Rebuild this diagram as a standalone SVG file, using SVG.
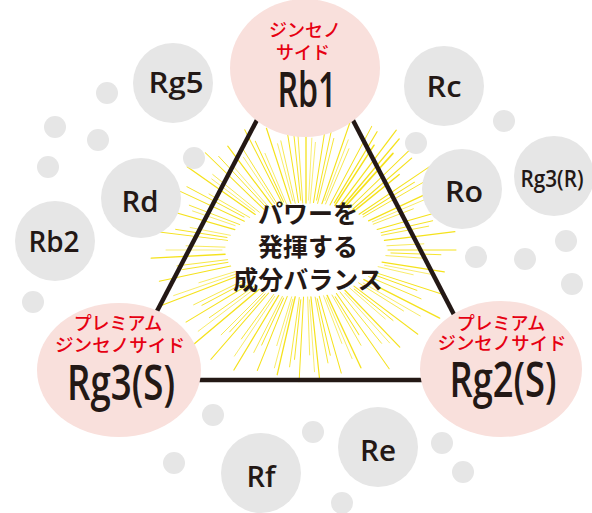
<svg xmlns="http://www.w3.org/2000/svg" width="592" height="513" viewBox="0 0 592 513">
<style>
.burst line{stroke:#f5e21c;stroke-linecap:round}
.edge{stroke:#231815;stroke-width:4.5;fill:none}
.pink{fill:#f9e0dc}
.gray{fill:#e6e6e6}
.red{font-family:"Noto Sans CJK JP","Noto Sans",sans-serif;font-size:18px;font-weight:500;fill:#e60012;text-anchor:middle}
.big{font-family:"Open Sans","Liberation Sans",sans-serif;font-weight:600;font-size:48px;fill:#231815;text-anchor:middle}
.lbl{font-family:"Open Sans","Liberation Sans",sans-serif;font-weight:600;font-size:29px;fill:#231815;text-anchor:middle}
.ctr{font-family:"Noto Sans CJK JP",sans-serif;font-weight:700;font-size:25px;fill:#231815;text-anchor:middle}
</style>
<rect width="592" height="513" fill="#ffffff"/>
<g id="burst" class="burst" transform="translate(306 250)">
<line x1="82" y1="0" x2="150" y2="0" stroke-width="1" transform="rotate(0)"/>
<line x1="80" y1="0" x2="120" y2="0" stroke-width="0.7" transform="rotate(4)"/>
<line x1="77" y1="0" x2="140" y2="0" stroke-width="1.2" transform="rotate(9)"/>
<line x1="74" y1="0" x2="110" y2="0" stroke-width="0.6" transform="rotate(13)"/>
<line x1="70" y1="0" x2="145" y2="0" stroke-width="1" transform="rotate(18)"/>
<line x1="68" y1="0" x2="125" y2="0" stroke-width="0.8" transform="rotate(23)"/>
<line x1="65" y1="0" x2="150" y2="0" stroke-width="1.4" transform="rotate(27)"/>
<line x1="62" y1="0" x2="115" y2="0" stroke-width="0.7" transform="rotate(32)"/>
<line x1="60" y1="0" x2="140" y2="0" stroke-width="1" transform="rotate(37)"/>
<line x1="58" y1="0" x2="105" y2="0" stroke-width="0.6" transform="rotate(41)"/>
<line x1="56" y1="0" x2="135" y2="0" stroke-width="1.2" transform="rotate(46)"/>
<line x1="54" y1="0" x2="120" y2="0" stroke-width="0.8" transform="rotate(51)"/>
<line x1="53" y1="0" x2="145" y2="0" stroke-width="1" transform="rotate(55)"/>
<line x1="52" y1="0" x2="110" y2="0" stroke-width="0.7" transform="rotate(60)"/>
<line x1="50" y1="0" x2="130" y2="0" stroke-width="1.3" transform="rotate(65)"/>
<line x1="49" y1="0" x2="100" y2="0" stroke-width="0.6" transform="rotate(69)"/>
<line x1="48" y1="0" x2="128" y2="0" stroke-width="1" transform="rotate(74)"/>
<line x1="48" y1="0" x2="115" y2="0" stroke-width="0.8" transform="rotate(79)"/>
<line x1="47" y1="0" x2="130" y2="0" stroke-width="1.2" transform="rotate(84)"/>
<line x1="47" y1="0" x2="105" y2="0" stroke-width="0.7" transform="rotate(88)"/>
<line x1="47" y1="0" x2="132" y2="0" stroke-width="1" transform="rotate(93)"/>
<line x1="48" y1="0" x2="118" y2="0" stroke-width="0.8" transform="rotate(98)"/>
<line x1="48" y1="0" x2="128" y2="0" stroke-width="1.3" transform="rotate(103)"/>
<line x1="49" y1="0" x2="100" y2="0" stroke-width="0.6" transform="rotate(107)"/>
<line x1="50" y1="0" x2="130" y2="0" stroke-width="1" transform="rotate(112)"/>
<line x1="52" y1="0" x2="115" y2="0" stroke-width="0.7" transform="rotate(117)"/>
<line x1="53" y1="0" x2="140" y2="0" stroke-width="1.2" transform="rotate(121)"/>
<line x1="55" y1="0" x2="110" y2="0" stroke-width="0.8" transform="rotate(126)"/>
<line x1="57" y1="0" x2="145" y2="0" stroke-width="1" transform="rotate(131)"/>
<line x1="59" y1="0" x2="120" y2="0" stroke-width="0.7" transform="rotate(135)"/>
<line x1="61" y1="0" x2="150" y2="0" stroke-width="1.3" transform="rotate(140)"/>
<line x1="63" y1="0" x2="118" y2="0" stroke-width="0.8" transform="rotate(145)"/>
<line x1="66" y1="0" x2="140" y2="0" stroke-width="1" transform="rotate(149)"/>
<line x1="69" y1="0" x2="125" y2="0" stroke-width="0.7" transform="rotate(154)"/>
<line x1="72" y1="0" x2="155" y2="0" stroke-width="1.2" transform="rotate(159)"/>
<line x1="74" y1="0" x2="112" y2="0" stroke-width="0.6" transform="rotate(163)"/>
<line x1="77" y1="0" x2="150" y2="0" stroke-width="1" transform="rotate(168)"/>
<line x1="79" y1="0" x2="130" y2="0" stroke-width="0.8" transform="rotate(173)"/>
<line x1="81" y1="0" x2="155" y2="0" stroke-width="1.3" transform="rotate(177)"/>
<line x1="81" y1="0" x2="120" y2="0" stroke-width="0.7" transform="rotate(182)"/>
<line x1="79" y1="0" x2="150" y2="0" stroke-width="1" transform="rotate(187)"/>
<line x1="77" y1="0" x2="118" y2="0" stroke-width="0.6" transform="rotate(191)"/>
<line x1="74" y1="0" x2="145" y2="0" stroke-width="1.2" transform="rotate(196)"/>
<line x1="71" y1="0" x2="125" y2="0" stroke-width="0.8" transform="rotate(201)"/>
<line x1="68" y1="0" x2="150" y2="0" stroke-width="1" transform="rotate(205)"/>
<line x1="65" y1="0" x2="112" y2="0" stroke-width="0.7" transform="rotate(210)"/>
<line x1="62" y1="0" x2="145" y2="0" stroke-width="1.3" transform="rotate(215)"/>
<line x1="60" y1="0" x2="120" y2="0" stroke-width="0.7" transform="rotate(219)"/>
<line x1="58" y1="0" x2="140" y2="0" stroke-width="1" transform="rotate(224)"/>
<line x1="55" y1="0" x2="110" y2="0" stroke-width="0.6" transform="rotate(229)"/>
<line x1="54" y1="0" x2="130" y2="0" stroke-width="1.2" transform="rotate(233)"/>
<line x1="52" y1="0" x2="118" y2="0" stroke-width="0.8" transform="rotate(238)"/>
<line x1="51" y1="0" x2="135" y2="0" stroke-width="1" transform="rotate(243)"/>
<line x1="50" y1="0" x2="105" y2="0" stroke-width="0.6" transform="rotate(247)"/>
<line x1="49" y1="0" x2="128" y2="0" stroke-width="1.2" transform="rotate(252)"/>
<line x1="48" y1="0" x2="112" y2="0" stroke-width="0.7" transform="rotate(257)"/>
<line x1="48" y1="0" x2="130" y2="0" stroke-width="1" transform="rotate(261)"/>
<line x1="47" y1="0" x2="118" y2="0" stroke-width="0.8" transform="rotate(266)"/>
<line x1="47" y1="0" x2="128" y2="0" stroke-width="1.3" transform="rotate(270)"/>
<line x1="47" y1="0" x2="108" y2="0" stroke-width="0.6" transform="rotate(275)"/>
<line x1="48" y1="0" x2="130" y2="0" stroke-width="1" transform="rotate(279)"/>
<line x1="48" y1="0" x2="115" y2="0" stroke-width="0.8" transform="rotate(284)"/>
<line x1="49" y1="0" x2="135" y2="0" stroke-width="1.2" transform="rotate(289)"/>
<line x1="50" y1="0" x2="110" y2="0" stroke-width="0.7" transform="rotate(293)"/>
<line x1="51" y1="0" x2="140" y2="0" stroke-width="1" transform="rotate(298)"/>
<line x1="53" y1="0" x2="125" y2="0" stroke-width="1.5" transform="rotate(303)"/>
<line x1="55" y1="0" x2="150" y2="0" stroke-width="1.2" transform="rotate(307)"/>
<line x1="57" y1="0" x2="130" y2="0" stroke-width="1.6" transform="rotate(312)"/>
<line x1="59" y1="0" x2="155" y2="0" stroke-width="1" transform="rotate(316)"/>
<line x1="61" y1="0" x2="120" y2="0" stroke-width="1.4" transform="rotate(321)"/>
<line x1="64" y1="0" x2="150" y2="0" stroke-width="1" transform="rotate(326)"/>
<line x1="66" y1="0" x2="135" y2="0" stroke-width="0.8" transform="rotate(330)"/>
<line x1="69" y1="0" x2="150" y2="0" stroke-width="1.2" transform="rotate(335)"/>
<line x1="72" y1="0" x2="115" y2="0" stroke-width="0.7" transform="rotate(339)"/>
<line x1="74" y1="0" x2="145" y2="0" stroke-width="1" transform="rotate(344)"/>
<line x1="77" y1="0" x2="125" y2="0" stroke-width="0.8" transform="rotate(349)"/>
<line x1="79" y1="0" x2="150" y2="0" stroke-width="1.2" transform="rotate(353)"/>
<line x1="81" y1="0" x2="118" y2="0" stroke-width="0.7" transform="rotate(357)"/>
<line x1="85" y1="0" x2="135" y2="0" stroke-width="0.9" transform="rotate(2)"/>
<line x1="80" y1="0" x2="128" y2="0" stroke-width="0.6" transform="rotate(11)"/>
<line x1="72" y1="0" x2="118" y2="0" stroke-width="0.9" transform="rotate(20)"/>
<line x1="66" y1="0" x2="132" y2="0" stroke-width="0.6" transform="rotate(30)"/>
<line x1="62" y1="0" x2="112" y2="0" stroke-width="0.9" transform="rotate(39)"/>
<line x1="58" y1="0" x2="125" y2="0" stroke-width="0.6" transform="rotate(48)"/>
<line x1="55" y1="0" x2="100" y2="0" stroke-width="0.9" transform="rotate(58)"/>
<line x1="52" y1="0" x2="118" y2="0" stroke-width="0.6" transform="rotate(67)"/>
<line x1="50" y1="0" x2="108" y2="0" stroke-width="0.9" transform="rotate(77)"/>
<line x1="50" y1="0" x2="122" y2="0" stroke-width="0.6" transform="rotate(86)"/>
<line x1="50" y1="0" x2="110" y2="0" stroke-width="0.9" transform="rotate(96)"/>
<line x1="51" y1="0" x2="122" y2="0" stroke-width="0.6" transform="rotate(105)"/>
<line x1="53" y1="0" x2="105" y2="0" stroke-width="0.9" transform="rotate(115)"/>
<line x1="56" y1="0" x2="128" y2="0" stroke-width="0.6" transform="rotate(124)"/>
<line x1="60" y1="0" x2="112" y2="0" stroke-width="0.9" transform="rotate(133)"/>
<line x1="64" y1="0" x2="135" y2="0" stroke-width="0.6" transform="rotate(143)"/>
<line x1="69" y1="0" x2="118" y2="0" stroke-width="0.9" transform="rotate(152)"/>
<line x1="74" y1="0" x2="140" y2="0" stroke-width="0.6" transform="rotate(161)"/>
<line x1="79" y1="0" x2="125" y2="0" stroke-width="0.9" transform="rotate(171)"/>
<line x1="84" y1="0" x2="140" y2="0" stroke-width="0.6" transform="rotate(180)"/>
<line x1="80" y1="0" x2="132" y2="0" stroke-width="0.9" transform="rotate(189)"/>
<line x1="75" y1="0" x2="120" y2="0" stroke-width="0.6" transform="rotate(199)"/>
<line x1="70" y1="0" x2="135" y2="0" stroke-width="0.9" transform="rotate(208)"/>
<line x1="64" y1="0" x2="118" y2="0" stroke-width="0.6" transform="rotate(217)"/>
<line x1="60" y1="0" x2="128" y2="0" stroke-width="0.9" transform="rotate(227)"/>
<line x1="56" y1="0" x2="112" y2="0" stroke-width="0.6" transform="rotate(236)"/>
<line x1="53" y1="0" x2="120" y2="0" stroke-width="0.9" transform="rotate(245)"/>
<line x1="51" y1="0" x2="110" y2="0" stroke-width="0.6" transform="rotate(255)"/>
<line x1="50" y1="0" x2="122" y2="0" stroke-width="0.9" transform="rotate(264)"/>
<line x1="50" y1="0" x2="112" y2="0" stroke-width="0.6" transform="rotate(273)"/>
<line x1="51" y1="0" x2="125" y2="0" stroke-width="0.9" transform="rotate(282)"/>
<line x1="53" y1="0" x2="118" y2="0" stroke-width="0.6" transform="rotate(291)"/>
<line x1="55" y1="0" x2="138" y2="0" stroke-width="1.2" transform="rotate(301)"/>
<line x1="58" y1="0" x2="145" y2="0" stroke-width="1.4" transform="rotate(310)"/>
<line x1="62" y1="0" x2="140" y2="0" stroke-width="1.2" transform="rotate(319)"/>
<line x1="67" y1="0" x2="128" y2="0" stroke-width="0.9" transform="rotate(328)"/>
<line x1="72" y1="0" x2="138" y2="0" stroke-width="0.6" transform="rotate(337)"/>
<line x1="77" y1="0" x2="130" y2="0" stroke-width="0.9" transform="rotate(347)"/>
</g>
<g id="connectors">
<line class="edge" x1="305" y1="28" x2="121" y2="380"/>
<line class="edge" x1="305" y1="28" x2="488" y2="380"/>
<line class="edge" x1="121" y1="380" x2="488" y2="380"/>
</g>
<g id="center-text">
<text class="ctr" x="308" y="223">パワーを</text>
<text class="ctr" x="308" y="256">発揮する</text>
<text class="ctr" x="308" y="289">成分バランス</text>
</g>
<g id="node-rb1">
<ellipse class="pink" cx="305" cy="68" rx="75" ry="69"/>
<text class="red" x="305" y="37">ジンセノ</text>
<text class="red" x="303" y="59">サイド</text>
<text class="big" x="307" y="107" textLength="59" lengthAdjust="spacingAndGlyphs">Rb1</text>
</g>
<g id="node-rg3s">
<ellipse class="pink" cx="119" cy="370" rx="82" ry="67"/>
<text class="red" x="118" y="330">プレミアム</text>
<text class="red" x="120" y="352" textLength="130" lengthAdjust="spacingAndGlyphs">ジンセノサイド</text>
<text class="big" x="121" y="400" textLength="108" lengthAdjust="spacingAndGlyphs">Rg3(S)</text>
</g>
<g id="node-rg2s">
<ellipse class="pink" cx="501" cy="369" rx="81" ry="68"/>
<text class="red" x="501" y="330">プレミアム</text>
<text class="red" x="502" y="350" textLength="129" lengthAdjust="spacingAndGlyphs">ジンセノサイド</text>
<text class="big" x="503" y="397" textLength="107" lengthAdjust="spacingAndGlyphs">Rg2(S)</text>
</g>
<g id="node-rg5"><circle class="gray" cx="173" cy="83" r="40"/><text class="lbl" x="176" y="93" textLength="55" lengthAdjust="spacingAndGlyphs">Rg5</text></g>
<g id="node-rd"><circle class="gray" cx="141" cy="198" r="40"/><text class="lbl" x="140" y="212" textLength="37" lengthAdjust="spacingAndGlyphs">Rd</text></g>
<g id="node-rb2"><circle class="gray" cx="55" cy="241" r="40"/><text class="lbl" x="54" y="252" textLength="51" lengthAdjust="spacingAndGlyphs">Rb2</text></g>
<g id="node-rc"><circle class="gray" cx="444" cy="86" r="40"/><text class="lbl" x="444" y="97" textLength="35" lengthAdjust="spacingAndGlyphs">Rc</text></g>
<g id="node-ro"><circle class="gray" cx="462" cy="189" r="40"/><text class="lbl" x="464" y="202" textLength="38" lengthAdjust="spacingAndGlyphs">Ro</text></g>
<g id="node-rg3r"><circle class="gray" cx="554" cy="176" r="40"/><text class="lbl" x="552" y="187" style="font-size:24px" textLength="63" lengthAdjust="spacingAndGlyphs">Rg3(R)</text></g>
<g id="node-rf"><circle class="gray" cx="261" cy="473" r="40"/><text class="lbl" x="261" y="487" textLength="29" lengthAdjust="spacingAndGlyphs">Rf</text></g>
<g id="node-re"><circle class="gray" cx="378" cy="447" r="40"/><text class="lbl" x="378" y="461" textLength="36" lengthAdjust="spacingAndGlyphs">Re</text></g>
<g id="dots" class="gray">
<circle cx="107" cy="93" r="11"/>
<circle cx="55" cy="127" r="11"/>
<circle cx="98" cy="140" r="11"/>
<circle cx="48" cy="167" r="11"/>
<circle cx="194" cy="158" r="11"/>
<circle cx="33" cy="302" r="11"/>
<circle cx="504" cy="121" r="11"/>
<circle cx="416" cy="143" r="11"/>
<circle cx="566" cy="241" r="11"/>
<circle cx="525" cy="259" r="11"/>
<circle cx="476" cy="257" r="11"/>
<circle cx="572" cy="284" r="11"/>
<circle cx="213" cy="415" r="11"/>
<circle cx="174" cy="463" r="11"/>
<circle cx="313" cy="432" r="11"/>
<circle cx="442" cy="443" r="11"/>
<circle cx="463" cy="472" r="11"/>
<circle cx="342" cy="503" r="11"/>
</g>
</svg>
